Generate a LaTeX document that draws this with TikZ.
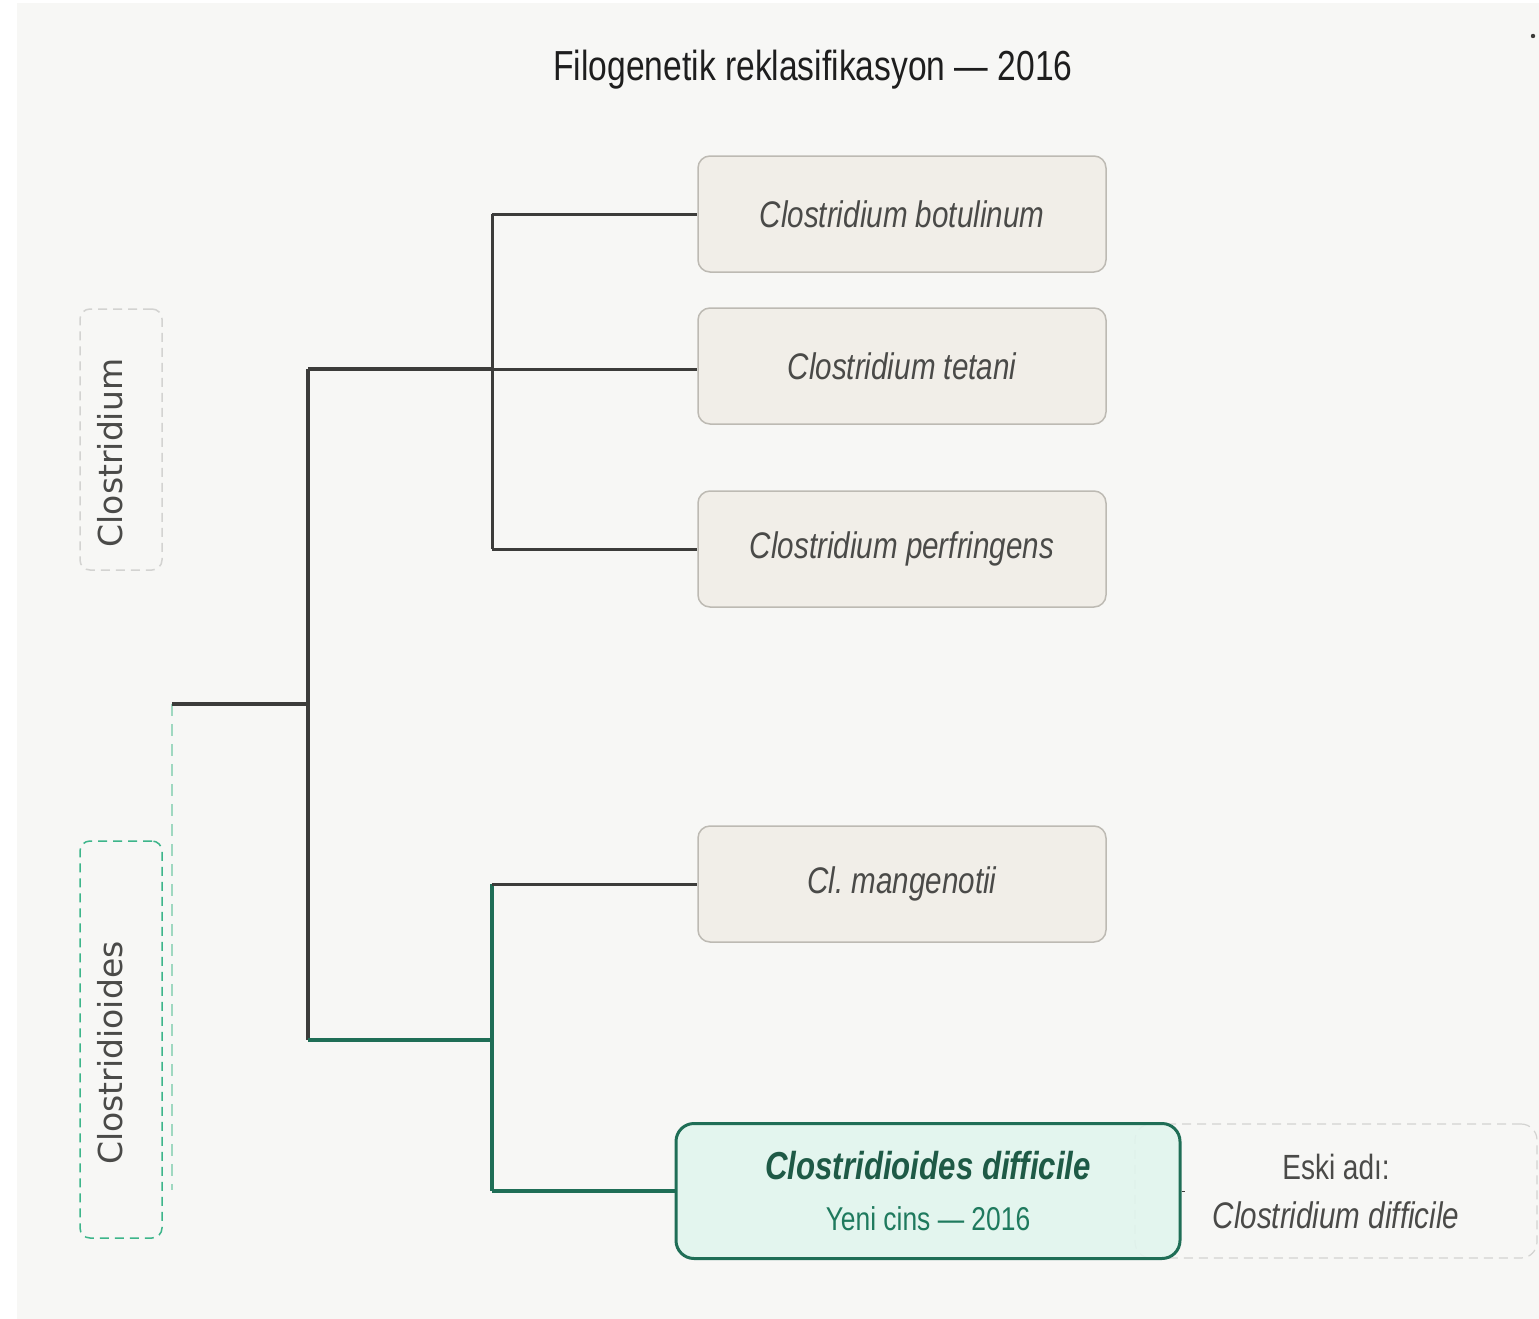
\documentclass[tikz,border=0pt]{standalone}
\usepackage{fontspec}
\setmainfont{Liberation Sans}[FakeStretch=0.8]
\newfontfamily\labelfont{DejaVu Sans}
\definecolor{paper}{HTML}{F7F7F5}
\definecolor{treeline}{HTML}{3C3C3A}
\definecolor{boxline}{HTML}{BDBAB3}
\definecolor{boxfill}{HTML}{F1EEE8}
\definecolor{sptext}{HTML}{4A4A48}
\definecolor{newgreen}{HTML}{1F6E56}
\definecolor{newfill}{HTML}{E1F5EE}
\definecolor{newtext}{HTML}{1F7A5E}
\definecolor{oldline}{HTML}{D3D3D1}
\definecolor{genusgreen}{HTML}{3DB58A}
\definecolor{guidegreen}{HTML}{9FD8C0}
\frenchspacing

\begin{document}
\begin{tikzpicture}[x=1pt,y=-1pt,
  species/.style={draw=boxline,fill=boxfill,rounded corners=12pt,line width=1.5pt,
    minimum width=408pt,minimum height=116pt,text=sptext,
    font=\fontsize{37}{44}\selectfont\itshape},
  stem/.style={draw=treeline,line width=4pt},
  twig/.style={draw=treeline,line width=3pt},
  newstem/.style={draw=newgreen,line width=4pt},
  genus/.style={rounded corners=10pt,line width=1.5pt,minimum width=82pt,
    dash pattern=on 9pt off 6pt},
  genuslabel/.style={rotate=90,text=sptext,font=\labelfont\fontsize{33}{40}\selectfont}
]
\useasboundingbox (0,0) rectangle (1539,1319);
\fill[paper] (17,3) rectangle (1539,1319);

\node at (813,70) (title) {\fontsize{42}{50}\selectfont\color[HTML]{1E1E1E}Filogenetik reklasifikasyon — 2016};
\fill[treeline] (1533,36) circle (2.2pt);

% genus labels
\node[genus,draw=oldline,minimum height=261pt] (gclo) at (121,439.5) {};
\node[genuslabel] (lclo) at (110,453) {Clostridium};
\node[genus,draw=genusgreen,minimum height=397pt] (gcdi) at (121,1039.5) {};
\node[genuslabel] (lcdi) at (110,1053) {Clostridioides};

% species
\node[species] (bot) at (902,214) {Clostridium botulinum};
\node[species] (tet) at (902,366) {Clostridium tetani};
\node[species] (per) at (902,549) {Clostridium perfringens};
\node[species] (man) at (902,884) {Cl. mangenotii};

\node[draw=oldline,rounded corners=16pt,line width=1.2pt,dash pattern=on 9pt off 6pt,
  minimum width=402pt,minimum height=134pt,align=center,text=sptext,
  font=\fontsize{35}{49}\selectfont] (old) at (1336,1191)
  {Eski adı:\\\itshape\fontsize{37}{49}\selectfont Clostridium difficile};
\node[draw=newgreen,fill=newfill,fill opacity=0.88,text opacity=1,rounded corners=18pt,
  line width=3pt,minimum width=504pt,minimum height=135pt,align=center,
  text=newtext,font=\fontsize{33}{51}\selectfont] (dif) at (928,1191)
  {{\bfseries\itshape\fontsize{39}{51}\selectfont\color[HTML]{1E5A46}Clostridioides difficile}\\Yeni cins — 2016};
\coordinate (tick) at (1185,1191);
\draw[treeline,line width=1pt] (dif.east) -- (tick);

% tree
\coordinate (r) at (172,704);
\coordinate (a) at (308,369);
\coordinate (b) at (308,1040);
\coordinate (c) at (492,369);
\coordinate (d) at (492,1040);
\draw[guidegreen,line width=1.8pt,dash pattern=on 12pt off 8pt] (r) -- (172,1190);
\draw[stem] (r) -- (r -| a);
\draw[stem] (a) -- (b);
\draw[stem] (a) -- (c);
\draw[twig] (c) -- (c -| tet.west);
\draw[twig] (bot.west -| c) -- (per.west -| c);
\draw[twig] (bot.west -| c) -- (bot.west);
\draw[twig] (per.west -| c) -- (per.west);
\draw[newstem] (b) -- (d);
\draw[newstem] (man.west -| d) -- (dif.west -| d);
\draw[twig] (man.west -| d) -- (man.west);
\draw[newstem] (dif.west -| d) -- (dif.west);
\end{tikzpicture}
\end{document}
